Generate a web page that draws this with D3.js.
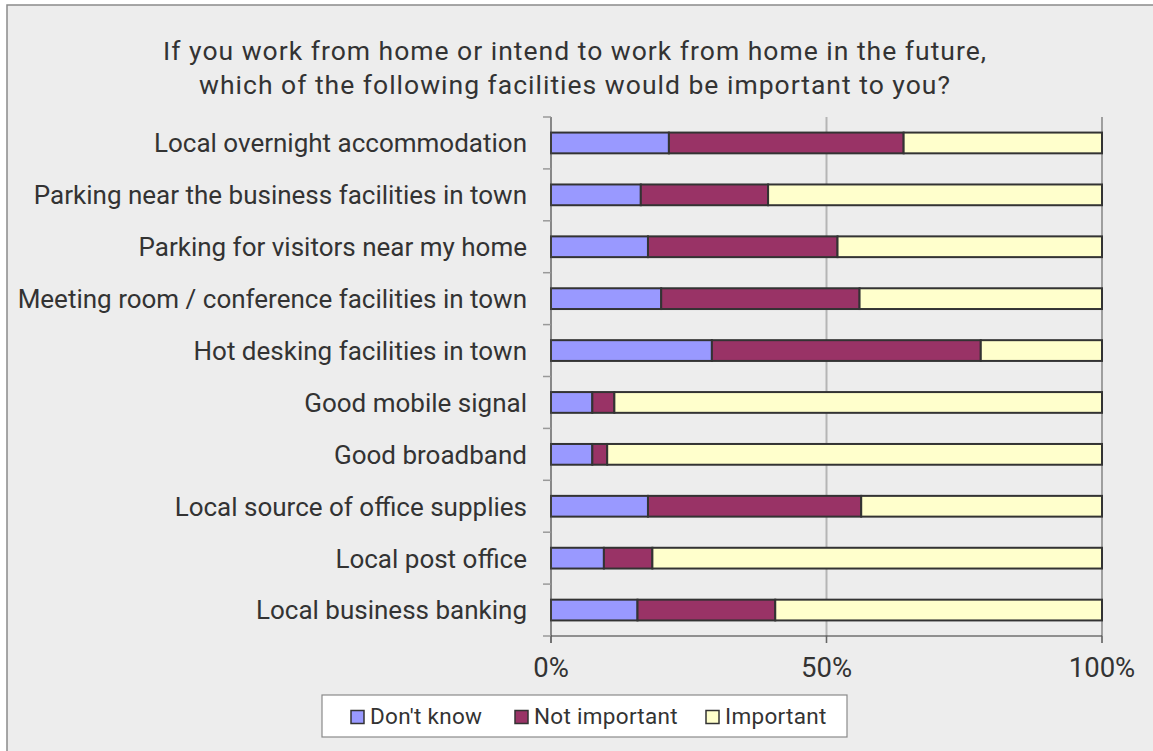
<!DOCTYPE html>
<html>
<head>
<meta charset="utf-8">
<script src="https://cdn.jsdelivr.net/npm/d3@7"></script>
<style>
  html, body { margin: 0; padding: 0; background: #ffffff; }
  svg { display: block; font-family: Roboto, "Liberation Sans", sans-serif; }
</style>
</head>
<body>
<svg id="chart" width="1153" height="751"></svg>
<script>
const titleLines = [
  "If you work from home or intend to work from home in the future,",
  "which of the following facilities would be important to you?"
];
const categories = [
  "Local overnight accommodation",
  "Parking near the business facilities in town",
  "Parking for visitors near my home",
  "Meeting room / conference facilities in town",
  "Hot desking facilities in town",
  "Good mobile signal",
  "Good broadband",
  "Local source of office supplies",
  "Local post office",
  "Local business banking"
];
const seriesNames = ["Don't know", "Not important", "Important"];
const dontKnow     = [21.4, 16.3, 17.6, 20.0, 29.2, 7.5, 7.5, 17.6, 9.6, 15.7];
const notImportant = [42.6, 23.1, 34.4, 36.0, 48.8, 4.0, 2.7, 38.7, 8.8, 25.0];
const important    = [36.0, 60.6, 48.0, 44.0, 22.0, 88.5, 89.8, 43.7, 81.6, 59.3];
const xTicks = [0, 50, 100];
const xTickLabels = ["0%", "50%", "100%"];
const colors = ["#9999FF", "#993366", "#FFFFCC"];

(function () {
const svg = d3.select("#chart");
const W = 1153, H = 751;

svg.append("rect").attr("x", 7).attr("y", 5).attr("width", W).attr("height", H)
  .attr("fill", "#EDEDED").attr("stroke", "#8a8a8a").attr("stroke-width", 1.5);

const title = svg.append("text").attr("text-anchor", "middle").attr("fill", "#333")
  .attr("font-size", 26.5).attr("letter-spacing", 1.0);
titleLines.forEach((t, i) => {
  title.append("tspan").attr("x", 575).attr("y", 60 + i * 33.5).text(t);
});

const pLeft = 551, pRight = 1102, pTop = 117, pBottom = 636;
const x = d3.scaleLinear().domain([0, 100]).range([pLeft, pRight]);
const y = d3.scaleBand().domain(categories).range([pTop, pBottom]).paddingInner(0.6).paddingOuter(0.3);

svg.append("line").attr("x1", x(50)).attr("x2", x(50)).attr("y1", pTop).attr("y2", pBottom + 7)
  .attr("stroke", "#b5b5b5").attr("stroke-width", 2);
svg.append("line").attr("x1", x(100)).attr("x2", x(100)).attr("y1", pTop).attr("y2", pBottom + 7)
  .attr("stroke", "#6a6a6a").attr("stroke-width", 1.2);

const table = categories.map((c, i) => ({ cat: c, s0: dontKnow[i], s1: notImportant[i], s2: important[i] }));
const stack = d3.stack().keys(["s0", "s1", "s2"])(table);

stack.forEach((layer, k) => {
  svg.append("g").selectAll("rect").data(layer).join("rect")
    .attr("x", d => x(d[0]))
    .attr("y", d => y(d.data.cat))
    .attr("width", d => x(d[1]) - x(d[0]))
    .attr("height", y.bandwidth())
    .attr("fill", colors[k])
    .attr("stroke", "#333")
    .attr("stroke-width", 2);
});

svg.append("line").attr("x1", pLeft).attr("x2", pLeft).attr("y1", pTop).attr("y2", pBottom + 7)
  .attr("stroke", "#444").attr("stroke-width", 1.2);
const bounds = d3.range(categories.length + 1).map(i => pTop + i * y.step());
svg.append("g").selectAll("line").data(bounds).join("line")
  .attr("x1", pLeft - 8).attr("x2", pLeft).attr("y1", d => d).attr("y2", d => d)
  .attr("stroke", "#999").attr("stroke-width", 1.5);

svg.append("g").selectAll("text").data(categories).join("text")
  .attr("x", 527).attr("y", d => y(d) + y.bandwidth() / 2)
  .attr("dy", "0.36em").attr("text-anchor", "end")
  .attr("font-size", 26).attr("fill", "#333").text(d => d);

svg.append("line").attr("x1", pLeft).attr("x2", pRight).attr("y1", pBottom).attr("y2", pBottom)
  .attr("stroke", "#333").attr("stroke-width", 1.2);
svg.append("g").selectAll("line").data(xTicks).join("line")
  .attr("x1", d => x(d)).attr("x2", d => x(d)).attr("y1", pBottom).attr("y2", pBottom + 7)
  .attr("stroke", "#666").attr("stroke-width", 1.2);
svg.append("g").selectAll("text").data(xTicks).join("text")
  .attr("x", d => x(d)).attr("y", 677).attr("text-anchor", "middle")
  .attr("font-size", 27.5).attr("fill", "#333").text((d, i) => xTickLabels[i]);

svg.append("rect").attr("x", 322).attr("y", 695).attr("width", 525).attr("height", 42)
  .attr("fill", "#fff").attr("stroke", "#8a8a8a").attr("stroke-width", 1.2);
const legendX = [351, 515, 706];
seriesNames.forEach((n, i) => {
  svg.append("rect").attr("x", legendX[i]).attr("y", 710.5).attr("width", 13).attr("height", 13)
    .attr("fill", colors[i]).attr("stroke", "#333").attr("stroke-width", 1.5);
  svg.append("text").attr("x", legendX[i] + 19).attr("y", 724)
    .attr("font-size", 22.5).attr("letter-spacing", 0.3).attr("fill", "#333").text(n);
});
})();
</script>
</body>
</html>
